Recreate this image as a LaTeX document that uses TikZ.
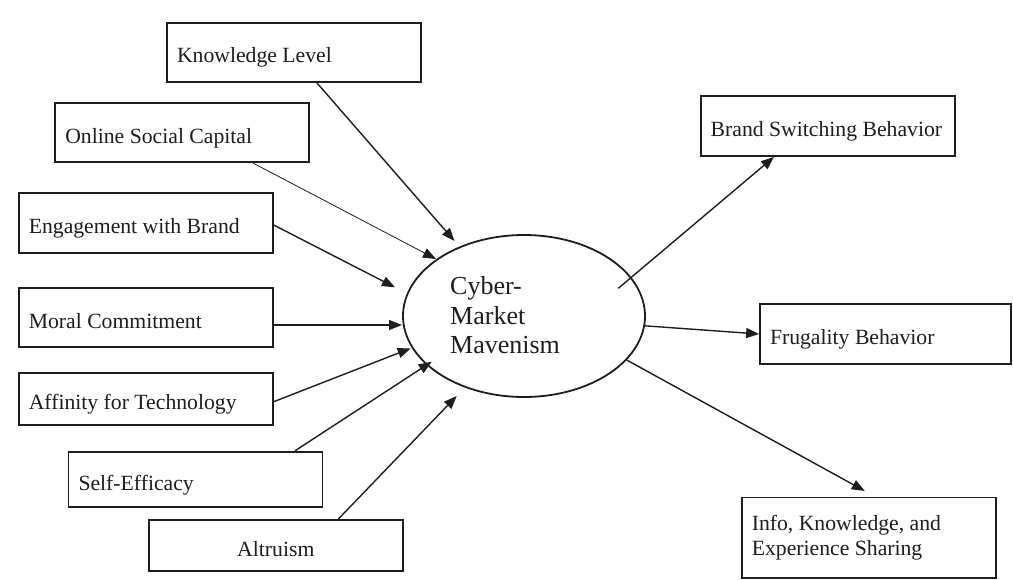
\documentclass[tikz,border=0pt]{standalone}
\usepackage{fontspec}
\setmainfont{Liberation Serif}
\usetikzlibrary{arrows.meta,shapes.geometric}
\definecolor{ink}{RGB}{30,30,30}
\newcommand\boxtxt[1]{\makebox[234pt][l]{#1}}
\begin{document}
\begin{tikzpicture}[x=1pt,y=-1pt,
  boxbase/.style={draw=ink, line width=1.8pt, rectangle, minimum width=254pt,
    inner xsep=10pt, inner ysep=0pt, align=left,
    font=\fontsize{21.7}{25}\selectfont, text=ink},
  box/.style={boxbase, text height=26pt, text depth=5pt},
  arr/.style={draw=ink, line width=1.4pt, -{Triangle[length=13pt,width=10pt]}},
  thinarr/.style={arr, line width=0.8pt},
  oval/.style={ellipse, draw=ink, line width=1.8pt, inner sep=0pt}
]
\fill[white] (0,0) rectangle (1013,579);
\useasboundingbox (0,0) rectangle (1013,579);

% input boxes
\node[box, minimum height=59pt]   (kl)  at (294,52.2)    {\boxtxt{Knowledge Level}};
\node[box, minimum height=59.6pt] (osc) at (182.3,132.5) {\boxtxt{Online Social Capital}};
\node[box, minimum height=59.4pt] (ewb) at (145.8,223)   {\boxtxt{Engagement with Brand}};
\node[box, minimum height=59.6pt] (mc)  at (145.8,317.5) {\boxtxt{Moral Commitment}};
\node[box, minimum height=51.7pt] (aft) at (145.8,399.2) {\boxtxt{Affinity for Technology}};
\node[box, minimum height=55.6pt] (se)  at (195.5,479.5) {\boxtxt{Self-Efficacy}};
\node[box, minimum height=51pt]   (alt) at (275.8,545.5) {\makebox[234pt][c]{Altruism}};

% output boxes
\node[box, minimum height=60pt]   (bsb)  at (827.7,126)   {\boxtxt{Brand Switching Behavior}};
\node[box, minimum height=59.7pt, minimum width=251pt] (fb) at (885.5,334) {\makebox[231pt][l]{Frugality Behavior}};
\node[boxbase, minimum height=80.7pt] (info) at (868.8,537.8) {\boxtxt{Info, Knowledge, and}\\\boxtxt{Experience Sharing}};

% central construct
\node[oval, minimum width=242pt, minimum height=162pt] (cmm) at (524,316) {};
\node[font=\fontsize{26}{29.5}\selectfont, align=left, anchor=west, inner sep=0pt, text=ink]
  (cmmlabel) at (450,315.6) {Cyber-\\Market\\Mavenism};

% arrow end points near the ellipse
\coordinate (tkl)  at (454.5,241);
\coordinate (tosc) at (436,259);
\coordinate (tewb) at (395,287.3);
\coordinate (tmc)  at (402,325);
\coordinate (taft) at (410.7,348.3);
\coordinate (tse)  at (431.7,361.7);
\coordinate (talt) at (456.7,396);
\coordinate (sbsb) at (618.3,288.3);
\coordinate (sfb)  at (643.3,325.7);
\coordinate (sinfo) at (626.7,360);

% inputs
\draw[arr]     ([xshift=22.7pt]kl.south)  -- (tkl);
\draw[thinarr] ([xshift=71pt]osc.south)   -- (tosc);
\draw[arr]     ([yshift=-2pt]ewb.east)    -- (tewb);
\draw[arr]     ([yshift=-7.5pt]mc.east)   -- (tmc);
\draw[arr]     ([yshift=-2.5pt]aft.east)  -- (taft);
\draw[arr]     ([xshift=99.5pt]se.north)  -- (tse);
\draw[arr]     ([xshift=62.5pt]alt.north) -- (talt);

% outputs
\draw[arr] (sbsb)  -- ([xshift=-53.7pt]bsb.south);
\draw[arr] (sfb)   -- (fb.west);
\draw[arr] (sinfo) -- ([xshift=-4pt,yshift=5.6pt]info.north);
\end{tikzpicture}
\end{document}
